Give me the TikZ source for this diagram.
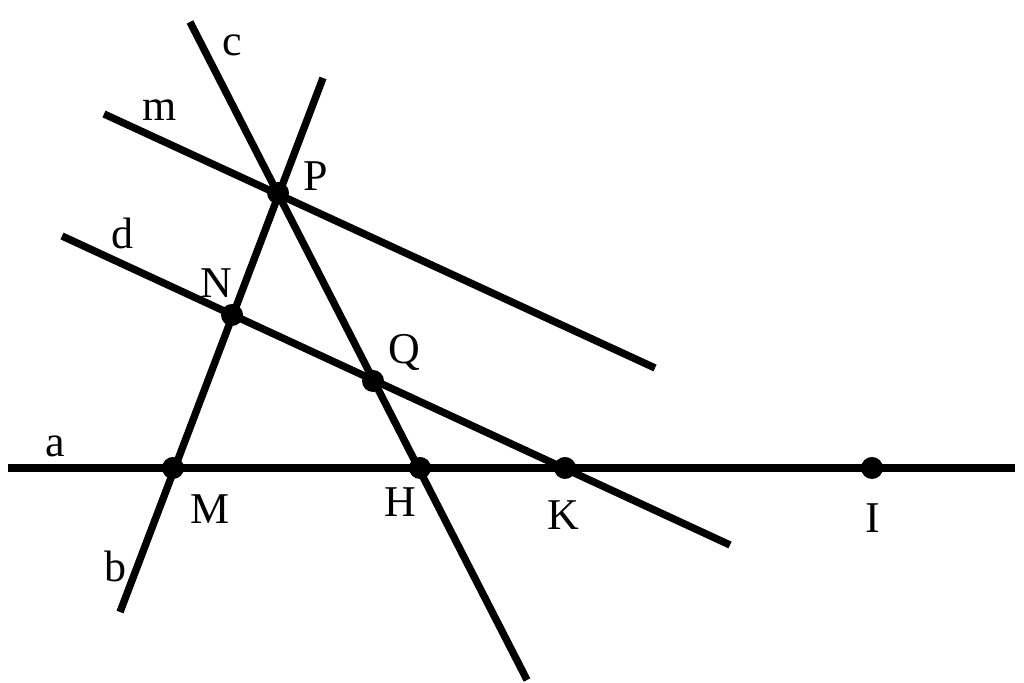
\documentclass[tikz,border=0pt]{standalone}
\usepackage{fontspec}
\setmainfont{Liberation Serif}
\begin{document}
\begin{tikzpicture}[x=0.01cm,y=-0.01cm,
  geoline/.style={line width=2.1pt,line cap=butt},
  pt/.style={circle,fill=black,inner sep=0pt,minimum size=0.22cm},
  lbl/.style={font=\fontsize{12.5}{14}\selectfont,inner sep=0pt}]
\useasboundingbox (0,0) rectangle (1024,683);
% points
\coordinate (Mc) at (173,468);
\coordinate (Hc) at (420,468);
\coordinate (Kc) at (565,468);
\coordinate (Ic) at (872,468);
\coordinate (Pc) at (278,193);
\coordinate (Nc) at (232,315);
\coordinate (Qc) at (373,381);
% line end points
\coordinate (a1) at (8,468);
\coordinate (a2) at (1015,468);
\coordinate (b1) at (120,612);
\coordinate (b2) at (323,78);
\coordinate (c1) at (190,22);
\coordinate (c2) at (527,680);
\coordinate (m1) at (104,114);
\coordinate (m2) at (655,368);
\coordinate (d1) at (62,236);
\coordinate (d2) at (730,545);
% lines
\draw[geoline] (a1) -- (a2);
\draw[geoline] (b1) -- (b2);
\draw[geoline] (c1) -- (c2);
\draw[geoline] (m1) -- (m2);
\draw[geoline] (d1) -- (d2);
% dots
\foreach \p in {M,H,K,I,P,N,Q} \node[pt] (\p) at (\p c) {};
% labels
\node[lbl] (lc) at (232,45) {c};
\node[lbl] (lm) at (160,110) {m};
\node[lbl] (lP) at (316,176) {P};
\node[lbl] (ld) at (122,233) {d};
\node[lbl] (lN) at (216,283) {N};
\node[lbl] (lQ) at (404,353) {Q};
\node[lbl] (la) at (55,446) {a};
\node[lbl] (lM) at (210,509) {M};
\node[lbl] (lH) at (400,502) {H};
\node[lbl] (lK) at (563,515) {K};
\node[lbl] (lI) at (873,518) {I};
\node[lbl] (lb) at (115,566) {b};
\end{tikzpicture}
\end{document}
